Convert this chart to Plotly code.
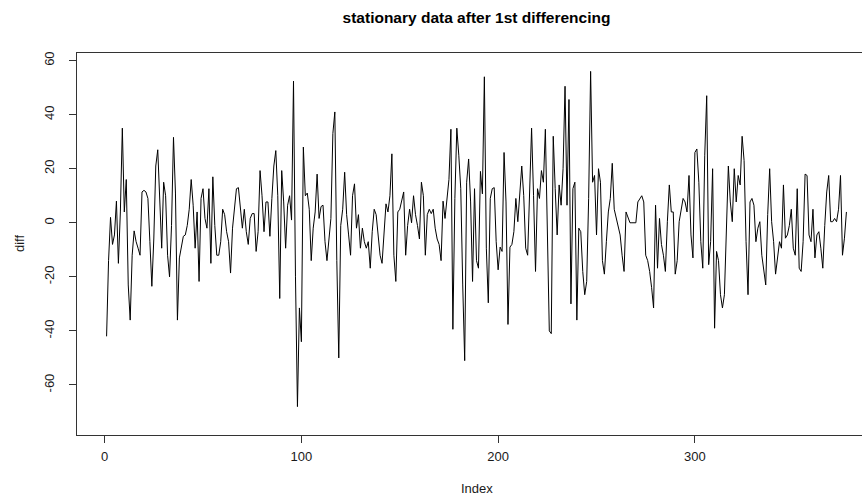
import plotly.graph_objects as go

# First-differenced series, one value per index position (1..377)
diff_values = [
    -42, -14, 2, -8, -4.5, 8, -15, 4, 35, 4, 16, -23, -36, -12, -3, -7, -9.4, -12, 11.4, 12,
    11.4, 9, -7, -23.5, -6, 21, 27, 10, -9.4, 15, 10, -12, -20, -1, 31.6, 11, -36, -13, -9.4, -5,
    -4.5, -1, 5, 16, 6.5, -9.4, 4, -21.7, 9, 12.6, 1.6, -2, 12.6, -15, 17, -1, -12, -12, -7, 5,
    3, -3.3, -7, -18.6, -2, 6.5, 12.6, 13, 4, -2, 5, -3.3, -8, 1.6, 3.4, 3.4, -10.6, -3.3, 19.3, 10,
    -3.3, 7.7, 7.7, -5, 9, 21, 26.7, 10, -28, 19.3, 7.7, -9.4, 6.5, 10, 1, 52.4, -20, -68, -31.5, -44,
    28, 10, 11, 5, -14, -2, 4, 18, 1.6, 6, 6.5, -7, -14, -5, 1.6, 33, 41, -14, -50, -1,
    5, 18.7, 3, -4.5, -12, 10, 14.4, -2, 3, -9.4, -2, -7, -9.4, -7, -16.8, -3.3, 5, 3, -4.5, -12,
    -15, -4.5, 7, 4, 10, 25.5, -12, -21.7, 4, 5, 7.7, 11.4, -12, -1, 5, 0, 10, 3, -1, -6,
    15, 10, -12, 3, 5, 3.4, 5, -2, -6, -8, -14, 8, 1.6, 10, 16, 34.6, -39.4, 9, 35, 25,
    12.6, -23, -51, 15, 23.6, 7.7, -21.7, 12.6, -14, -16.8, 19, 10.7, 54, -9.4, -29.6, 9, 12.6, 13, -7, -17.4,
    -9, -10.6, 26, 7.7, -37.6, -9, -8, -3.3, 9, 0.4, 10, 21, 10, -9.4, -12, 12.6, 35, 10, -18, 12.6,
    9, 19.3, 15, 34.6, -7, -40, -41, 32, 12.6, -4.5, 14, 6.5, 20, 50.5, 6.5, 45.6, -30, 12.6, 15, -36,
    -2, -3.3, -18, -26.6, -21.7, 9, 56, 15, 17.5, -4.5, 20, 15, -14, -19, -7, 4, 9, 22, 5, 1.6,
    -1, -4.5, -12, -18, 4, 1.6, 0, 0, 0, 0, 7.7, 9, 10, 7.7, -12, -14, -18, -24, -31.5, 6.5,
    -16.8, 1.6, -8, -12, -18, 0.4, 14, 4, 4, -19, -14, 0.4, 4, 9, 7.7, 4, 17.5, -4.5, -13, 26,
    27.3, 15, -7, -16.8, 25, 47, -15.5, -7, 20, -39, -10.6, -14, -26.6, -31.5, -26.6, 0.4, 21, 7.7, 0.4, 20,
    7.7, 17.5, 14, 32, 23, -7, -26.6, 7.7, 9, 6.5, -7, -2, 0.4, -12, -18, -23, 3, 20, 0.4, -7,
    -19, -12, -7, -9.4, 14, -5.7, -4.5, -1, 5, -9.4, -12, 12.6, -16.8, -18, -7, 18, 17.5, -4.5, -7, 5,
    -13, -4.5, -3.3, -9.4, -16.8, -1, 11.4, 17.5, 0.4, 0.4, 1.6, 0.4, 5, 17.5, -12, -5.7, 4,
]
index = list(range(1, len(diff_values) + 1))

x_ticks = [0, 100, 200, 300]
y_ticks = [-60, -40, -20, 0, 20, 40, 60]
y_limits = [-78.5, 62.8]

title_text = "stationary data after 1st differencing"
x_label = "Index"
y_label = "diff"

W, H = 862, 500
left, top, bottom = 77, 53, 65
plot_w = W - left

# x limits: index range padded by 4% each side; the full box is wider than
# the page, so only the part that fits is shown
n = len(diff_values)
x_pad = 0.04 * (n - 1)
box_w = 799
x_lo = 1 - x_pad
x_span_full = (n + x_pad) - x_lo
x_hi_visible = x_lo + x_span_full * plot_w / box_w
box_center_paper = (box_w / 2) / plot_w

font = "Liberation Sans, Arial, sans-serif"
ink = "#1a1a1a"

fig = go.Figure()
fig.add_trace(go.Scatter(
    x=index, y=diff_values, mode="lines",
    line=dict(color="black", width=1),
    hoverinfo="skip", showlegend=False,
))

plot_h = H - top - bottom

fig.update_layout(
    width=W, height=H,
    margin=dict(l=left, r=0, t=top, b=bottom),
    paper_bgcolor="white", plot_bgcolor="white",
    font=dict(family=font, size=13, color=ink),
    showlegend=False,
    title=dict(
        text="<b>" + title_text + "</b>",
        x=box_center_paper, xref="paper", xanchor="center",
        y=1 - 18 / H, yref="container", yanchor="middle",
        font=dict(family=font, size=15.5, color="black"),
    ),
    xaxis=dict(
        range=[x_lo, x_hi_visible],
        tickvals=x_ticks, ticktext=[str(v) for v in x_ticks],
        ticks="outside", ticklen=7, tickwidth=1, tickcolor="#333",
        showline=True, linecolor="#333", linewidth=1, mirror=True,
        showgrid=False, zeroline=False,
        tickfont=dict(family=font, size=13, color=ink),
        ticklabelstandoff=2,
    ),
    yaxis=dict(
        range=y_limits,
        tickvals=y_ticks, ticktext=[str(v) for v in y_ticks],
        ticks="outside", ticklen=7, tickwidth=1, tickcolor="#333",
        showline=True, linecolor="#333", linewidth=1, mirror=False,
        showgrid=False, zeroline=False, tickangle=-90,
        tickfont=dict(family=font, size=13, color=ink),
        ticklabelstandoff=10,
    ),
    annotations=[
        dict(text=x_label, xref="paper", yref="paper",
             x=box_center_paper, y=-(488 - (H - bottom)) / plot_h,
             xanchor="center", yanchor="middle", showarrow=False,
             font=dict(family=font, size=13, color=ink)),
        dict(text=y_label, xref="paper", yref="paper",
             x=-(left - 19) / plot_w, y=0.5, textangle=-90,
             xanchor="center", yanchor="middle", showarrow=False,
             font=dict(family=font, size=13, color=ink)),
    ],
)

fig.write_html("out.html")
